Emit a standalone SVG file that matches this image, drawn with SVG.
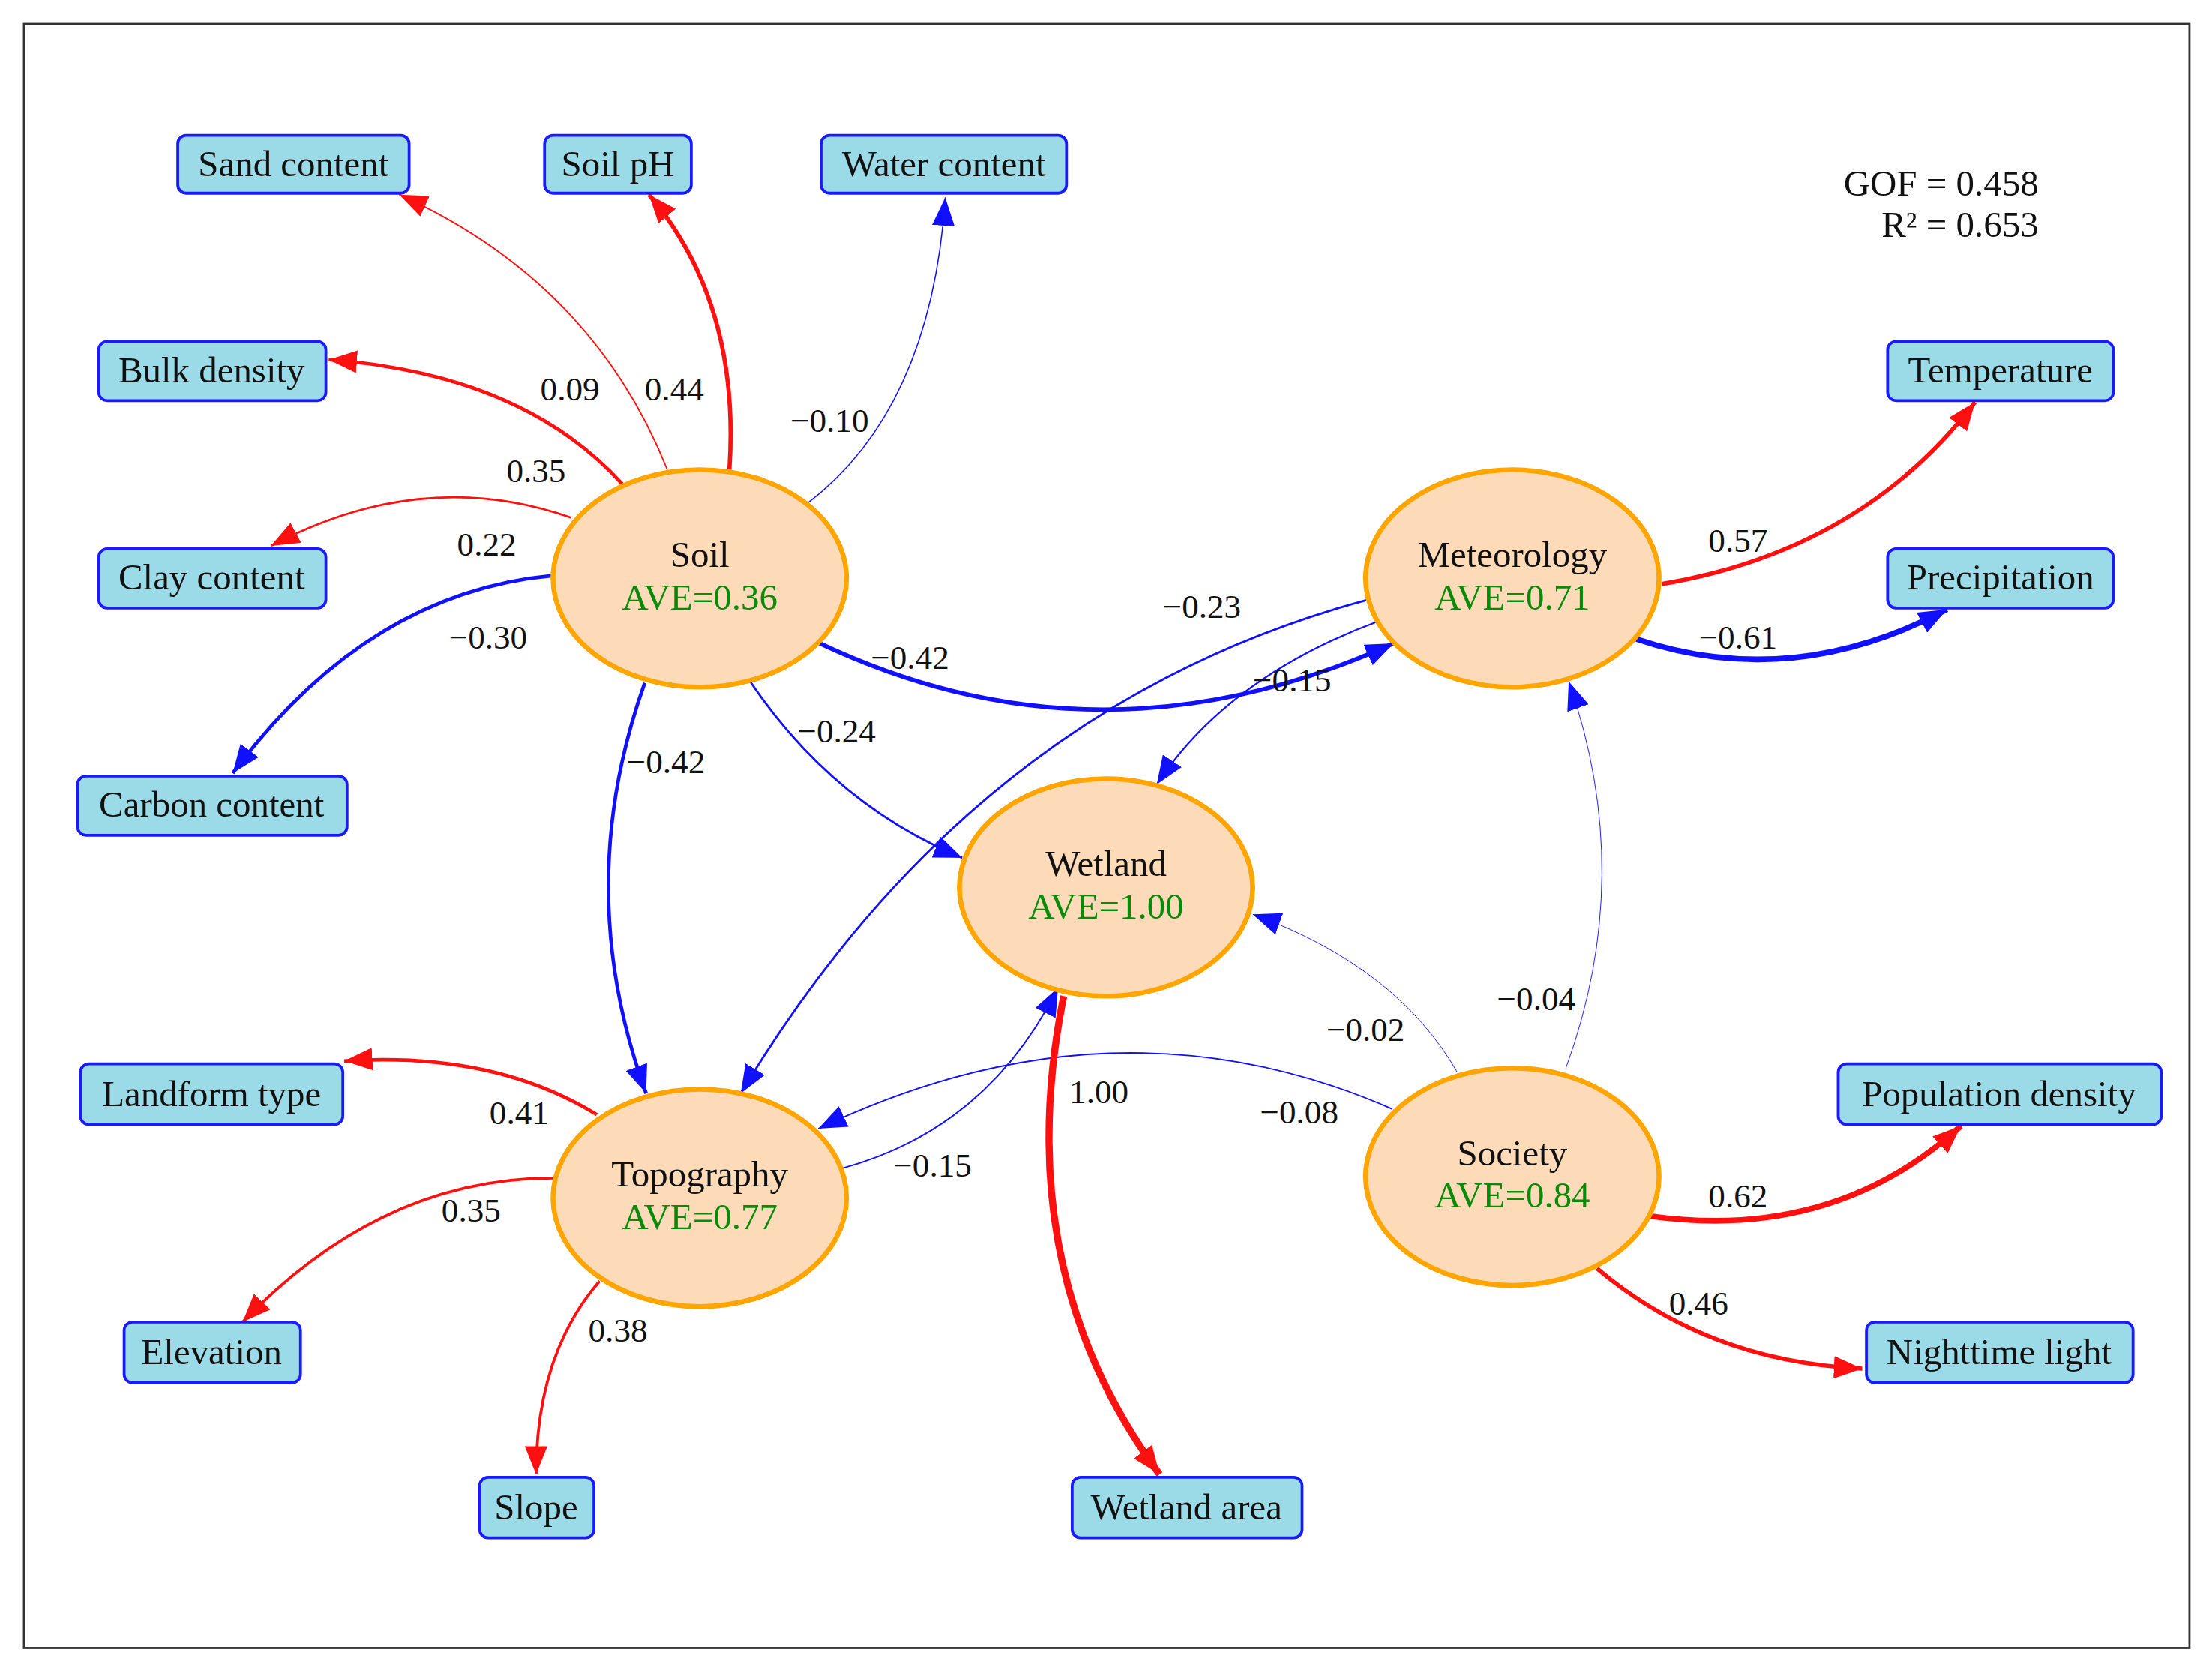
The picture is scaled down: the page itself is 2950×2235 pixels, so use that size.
<svg xmlns="http://www.w3.org/2000/svg" width="2950" height="2235" viewBox="0 0 2950 2235">
<style>
.box{fill:#9bdbe8;stroke:#1a1aff;stroke-width:2}
.bt{font-family:"Liberation Serif",serif;font-size:26px;fill:#111;text-anchor:middle}
.ell{fill:#fddbb9;stroke:#ffa500;stroke-width:3.5}
.ave{font-family:"Liberation Serif",serif;font-size:26px;fill:#0a8a0a;text-anchor:middle}
.lab{font-family:"Liberation Serif",serif;font-size:24px;fill:#111;text-anchor:middle}
.r{fill:none;stroke:#ff1010}
.b{fill:none;stroke:#1010ff}
</style>
<defs>
<marker id="ar" markerUnits="userSpaceOnUse" markerWidth="20" markerHeight="16" viewBox="0 0 20 16" refX="20" refY="8" orient="auto"><path d="M0,0 L20,8 L0,16 z" fill="#ff1010"/></marker>
<marker id="ab" markerUnits="userSpaceOnUse" markerWidth="20" markerHeight="16" viewBox="0 0 20 16" refX="20" refY="8" orient="auto"><path d="M0,0 L20,8 L0,16 z" fill="#1010ff"/></marker>
</defs>
<rect width="2950" height="2235" fill="#fff"/>
<g transform="scale(1.8814)">
<rect x="17" y="17" width="1535" height="1151" fill="none" stroke="#333" stroke-width="1.5"/>
<g id="connectors">
<path class="r" stroke-width="1" d="M473,333 Q420,200 283,138" marker-end="url(#ar)"/>
<path class="r" stroke-width="3" d="M517,333 Q525,215 460,138" marker-end="url(#ar)"/>
<path class="b" stroke-width="0.8" d="M572,357 Q660,290 670,140" marker-end="url(#ab)"/>
<path class="r" stroke-width="2.5" d="M441,343 Q370,265 233,255" marker-end="url(#ar)"/>
<path class="r" stroke-width="1.5" d="M405,367 Q300,330 192,387" marker-end="url(#ar)"/>
<path class="b" stroke-width="2.5" d="M392,408 Q260,420 165,548" marker-end="url(#ab)"/>
<path class="b" stroke-width="3" d="M581,456 Q780,550 988,456" marker-end="url(#ab)"/>
<path class="b" stroke-width="1.5" d="M531,482 Q590,570 682,608" marker-end="url(#ab)"/>
<path class="b" stroke-width="2.5" d="M457,484 Q405,630 458,775" marker-end="url(#ab)"/>
<path class="b" stroke-width="1.5" d="M970,425 Q690,500 525,775" marker-end="url(#ab)"/>
<path class="b" stroke-width="1.2" d="M978,440 Q870,480 820,556" marker-end="url(#ab)"/>
<path class="r" stroke-width="3" d="M1178,414 Q1320,390 1400,285" marker-end="url(#ar)"/>
<path class="b" stroke-width="4" d="M1160,453 Q1270,490 1380,432" marker-end="url(#ab)"/>
<path class="b" stroke-width="0.5" d="M1110,757 Q1160,620 1112,483" marker-end="url(#ab)"/>
<path class="b" stroke-width="0.5" d="M1033,760 Q990,685 888,648" marker-end="url(#ab)"/>
<path class="b" stroke-width="1" d="M987,786 Q790,700 580,800" marker-end="url(#ab)"/>
<path class="b" stroke-width="1" d="M597,828 Q700,800 750,700" marker-end="url(#ab)"/>
<path class="r" stroke-width="5" d="M754,706 Q715,900 822,1045" marker-end="url(#ar)"/>
<path class="r" stroke-width="2.5" d="M423,790 Q350,745 244,752" marker-end="url(#ar)"/>
<path class="r" stroke-width="2" d="M392,835 Q270,835 172,937" marker-end="url(#ar)"/>
<path class="r" stroke-width="2" d="M425,908 Q380,960 380,1045" marker-end="url(#ar)"/>
<path class="r" stroke-width="4" d="M1170,862 Q1300,880 1390,798" marker-end="url(#ar)"/>
<path class="r" stroke-width="3" d="M1132,899 Q1210,965 1320,970" marker-end="url(#ar)"/>
<g class="lab">
<text x="404" y="284">0.09</text><text x="478" y="284">0.44</text><text x="588" y="306">−0.10</text>
<text x="380" y="342">0.35</text><text x="345" y="394">0.22</text><text x="346" y="460">−0.30</text>
<text x="645" y="474">−0.42</text><text x="593" y="526">−0.24</text><text x="472" y="548">−0.42</text>
<text x="852" y="438">−0.23</text><text x="916" y="490">−0.15</text><text x="1232" y="391">0.57</text>
<text x="1232" y="460">−0.61</text><text x="1089" y="716">−0.04</text><text x="968" y="738">−0.02</text>
<text x="921" y="796">−0.08</text><text x="779" y="782">1.00</text><text x="661" y="834">−0.15</text>
<text x="368" y="797">0.41</text><text x="334" y="866">0.35</text><text x="438" y="951">0.38</text>
<text x="1232" y="856">0.62</text><text x="1204" y="932">0.46</text>
</g>
</g>
<g id="sand"><rect class="box" x="126" y="96" width="164" height="41" rx="6"/><text class="bt" x="208" y="125">Sand content</text></g>
<g id="ph"><rect class="box" x="386" y="96" width="104" height="41" rx="6"/><text class="bt" x="438" y="125">Soil pH</text></g>
<g id="water"><rect class="box" x="582" y="96" width="174" height="41" rx="6"/><text class="bt" x="669" y="125">Water content</text></g>
<g id="bulk"><rect class="box" x="70" y="242" width="161" height="42" rx="6"/><text class="bt" x="150" y="271">Bulk density</text></g>
<g id="clay"><rect class="box" x="70" y="389" width="161" height="42" rx="6"/><text class="bt" x="150" y="418">Clay content</text></g>
<g id="carbon"><rect class="box" x="55" y="550" width="191" height="42" rx="6"/><text class="bt" x="150" y="579">Carbon content</text></g>
<g id="temp"><rect class="box" x="1338" y="242" width="160" height="42" rx="6"/><text class="bt" x="1418" y="271">Temperature</text></g>
<g id="precip"><rect class="box" x="1338" y="389" width="160" height="42" rx="6"/><text class="bt" x="1418" y="418">Precipitation</text></g>
<g id="landform"><rect class="box" x="57" y="754" width="186" height="43" rx="6"/><text class="bt" x="150" y="784">Landform type</text></g>
<g id="elev"><rect class="box" x="88" y="937" width="125" height="43" rx="6"/><text class="bt" x="150" y="967">Elevation</text></g>
<g id="slope"><rect class="box" x="340" y="1047" width="81" height="43" rx="6"/><text class="bt" x="380" y="1077">Slope</text></g>
<g id="warea"><rect class="box" x="760" y="1047" width="163" height="43" rx="6"/><text class="bt" x="841" y="1077">Wetland area</text></g>
<g id="pop"><rect class="box" x="1303" y="754" width="229" height="43" rx="6"/><text class="bt" x="1417" y="784">Population density</text></g>
<g id="night"><rect class="box" x="1323" y="937" width="189" height="43" rx="6"/><text class="bt" x="1417" y="967">Nighttime light</text></g>
<g id="soil"><ellipse class="ell" cx="496" cy="410" rx="104" ry="77"/><text class="bt" x="496" y="402">Soil</text><text class="ave" x="496" y="432">AVE=0.36</text></g>
<g id="met"><ellipse class="ell" cx="1072" cy="410" rx="104" ry="77"/><text class="bt" x="1072" y="402">Meteorology</text><text class="ave" x="1072" y="432">AVE=0.71</text></g>
<g id="wetland"><ellipse class="ell" cx="784" cy="629" rx="104" ry="77"/><text class="bt" x="784" y="621">Wetland</text><text class="ave" x="784" y="651">AVE=1.00</text></g>
<g id="topo"><ellipse class="ell" cx="496" cy="849" rx="104" ry="77"/><text class="bt" x="496" y="841">Topography</text><text class="ave" x="496" y="871">AVE=0.77</text></g>
<g id="society"><ellipse class="ell" cx="1072" cy="834" rx="104" ry="77"/><text class="bt" x="1072" y="826">Society</text><text class="ave" x="1072" y="856">AVE=0.84</text></g>
<g id="stats" font-family="Liberation Serif,serif" font-size="26" text-anchor="end" fill="#111"><text x="1445" y="139">GOF = 0.458</text><text x="1445" y="168">R² = 0.653</text></g>
</g>
</svg>
